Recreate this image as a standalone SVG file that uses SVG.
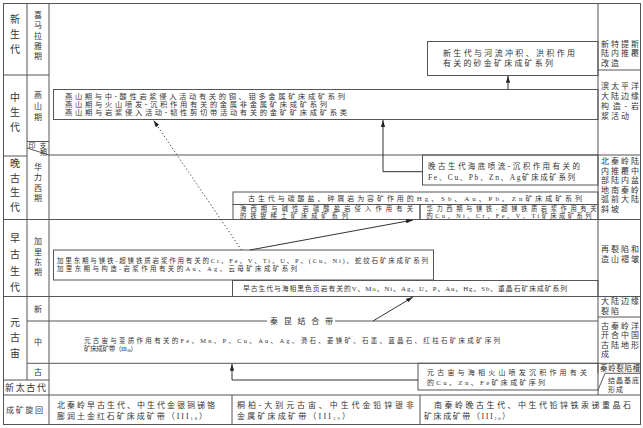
<svg xmlns="http://www.w3.org/2000/svg" width="643" height="428" viewBox="0 0 643 428">
<defs>
<marker id="ah" viewBox="0 0 10 6" refX="10" refY="3" markerWidth="7" markerHeight="4.5" markerUnits="userSpaceOnUse" orient="auto">
<path d="M0,0L10,3L0,6z" fill="#222"/>
</marker>
<style>
.ln{stroke:#555;stroke-width:1;fill:none}
.bx{stroke:#555;stroke-width:1;fill:none}
.t{font-family:"Liberation Serif","Noto Sans CJK SC",serif;fill:#333}
.era{font-size:10px;text-anchor:middle}
.per{font-size:8px;text-anchor:middle}
.rc{font-size:8px}
.cn{stroke:#333;stroke-width:1;fill:none;marker-end:url(#ah)}
.dt{stroke-dasharray:1.2 2.4}
.sub{font-size:4.5px}
</style>
</defs>
<rect x="0" y="0" width="643" height="428" fill="#fff"/>
<g id="grid" class="ln">
<rect x="3.5" y="3.5" width="637" height="421"/>
<path d="M27 3.5V380M49 3.5V424.5M598 3.5V373.3M598 390V395M3.5 75H49M27 141.5H49M3.5 156H27M27 148L49 155M49 155H640.5M598 70H640.5M3.5 219.5H640.5M3.5 296.5H640.5M27 321H49M49 321H267M335 321H598M598 317H640.5M27 363.3H640.5M605 373.3H640.5M605 373.3L598 390M3.5 380H49M3.5 395H640.5M232 395V424.5M420 395V424.5"/>
</g>

<g id="era-labels" class="t era">
<text x="15" y="22.6">新</text><text x="15" y="37.6">生</text><text x="15" y="52.6">代</text>
<text x="15" y="100.6">中</text><text x="15" y="115.6">生</text><text x="15" y="130.6">代</text>
<text x="15" y="166.6">晚</text><text x="15" y="181.6">古</text><text x="15" y="196.1">生</text><text x="15" y="210.6">代</text>
<text x="15" y="241.6">早</text><text x="15" y="258.1">古</text><text x="15" y="274.6">生</text><text x="15" y="291.1">代</text>
<text x="15" y="325.6">元</text><text x="15" y="341.1">古</text><text x="15" y="356.6">宙</text>
</g>
<g id="era-neoarchean"><text class="t" x="5" y="390.8" font-size="9" textLength="41" lengthAdjust="spacing">新太古代</text></g>
<g id="cycle-label"><text class="t" x="6" y="412.9" font-size="8" textLength="37" lengthAdjust="spacing">成矿旋回</text></g>

<g id="period-labels" class="t per">
<text x="38" y="17.9">喜</text><text x="38" y="28.2">马</text><text x="38" y="38.5">拉</text><text x="38" y="48.8">雅</text><text x="38" y="59.1">期</text>
<text x="38" y="97.9">燕</text><text x="38" y="108.9">山</text><text x="38" y="119.9">期</text>
<text x="38" y="169.9">华</text><text x="38" y="180.4">力</text><text x="38" y="190.9">西</text><text x="38" y="201.4">期</text>
<text x="38" y="244.4">加</text><text x="38" y="254.7">里</text><text x="38" y="264.9">东</text><text x="38" y="275.2">期</text>
<text x="38" y="311.9">新</text><text x="38" y="344.9">中</text><text x="38" y="374.9">古</text>
</g>
<g id="period-indosinian" class="t" font-size="7">
<text x="28.5" y="148" textLength="18" lengthAdjust="spacing">印支</text>
<text x="40" y="154.5">期</text>
</g>

<g id="box-cenozoic">
<rect class="bx" x="427.5" y="41.5" width="170.5" height="34"/>
<text class="t" x="443" y="56" font-size="8" textLength="132" lengthAdjust="spacing">新生代与河流冲积、洪积作用</text>
<text class="t" x="443" y="65.5" font-size="8" textLength="110" lengthAdjust="spacing">有关的砂金矿床成矿系列</text>
</g>

<g id="box-yanshan">
<rect class="bx" x="53.5" y="89.5" width="544.5" height="30"/>
<text class="t" x="65" y="98.6" font-size="7.3" textLength="280" lengthAdjust="spacing">燕山期与中-酸性岩浆侵入活动有关的铜、钼多金属矿床成矿系列</text>
<text class="t" x="65" y="106.6" font-size="7.3" textLength="262" lengthAdjust="spacing">燕山期与火山喷发-沉积作用有关的金属非金属矿床成矿系列</text>
<text class="t" x="65" y="114.6" font-size="7.3" textLength="282" lengthAdjust="spacing">燕山期与岩浆侵入活动-韧性剪切带活动有关的金矿矿床成矿系类</text>
</g>

<g id="box-late-paleozoic-exhalative">
<rect class="bx" x="422.5" y="155" width="175.5" height="30"/>
<text class="t" x="428" y="168.8" font-size="7.5" textLength="152" lengthAdjust="spacing">晚古生代海底喷流-沉积作用有关的</text>
<text class="t" x="428" y="179.8" font-size="7.5" textLength="147" lengthAdjust="spacing">Fe、Cu、Pb、Zn、Ag矿床成矿系列</text>
</g>

<g id="box-paleozoic-carbonate">
<rect class="bx" x="233" y="192" width="365" height="12.5"/>
<text class="t" x="248" y="200.9" font-size="7" textLength="334" lengthAdjust="spacing">古生代与碳酸盐、碎屑岩为容矿作用的Hg、Sb、Au、Pb、Zn矿床成矿系列</text>
</g>

<g id="box-hercynian-alkaline">
<rect class="bx" x="233" y="204.5" width="187" height="15"/>
<text class="t" x="240" y="211.4" font-size="6.3" textLength="173" lengthAdjust="spacing">海西期与碱性岩碳酸盐岩侵入作用有关</text>
<text class="t" x="240" y="218.4" font-size="6.3" textLength="108" lengthAdjust="spacing">的铁铌稀土矿床成矿系列</text>
</g>

<g id="box-variscan-mafic">
<rect class="bx" x="420" y="204.5" width="178" height="15"/>
<text class="t" x="426.5" y="211.4" font-size="6.3" textLength="170" lengthAdjust="spacing">华力西期与镁铁-超镁铁质岩浆作用有关</text>
<text class="t" x="426.5" y="218.4" font-size="6.3" textLength="165" lengthAdjust="spacing">的Cu、Ni、Cr、Fe、V、Ti矿床成矿系列</text>
</g>

<g id="box-caledonian">
<rect class="bx" x="53.5" y="250" width="380" height="30"/>
<text class="t" x="57" y="263.3" font-size="6.5" textLength="371" lengthAdjust="spacing">加里东期与镁铁-超镁铁质岩浆作用有关的Cr、Fe、V、Ti、U、P、(Cu、Ni)、蛇纹石矿床成矿系列</text>
<text class="t" x="57" y="270.8" font-size="6.5" textLength="240" lengthAdjust="spacing">加里东期与构造-岩浆作用有关的Au、Ag、云母矿床成矿系列</text>
</g>

<g id="box-early-paleozoic-shale">
<rect class="bx" x="232.5" y="280.5" width="365.5" height="16"/>
<text class="t" x="243" y="291" font-size="6.8" textLength="324" lengthAdjust="spacing">早古生代与海相黑色页岩有关的V、Mo、Ni、Ag、U、P、Au、Hg、Sb、重晶石矿床成矿系列</text>
</g>

<g id="label-qinkun">
<text class="t" x="270" y="324" font-size="8" textLength="63" lengthAdjust="spacing">秦昆结合带</text>
</g>

<g id="node-proterozoic-metamorphic">
<text class="t" x="84" y="342.8" font-size="6.5" textLength="416" lengthAdjust="spacing">元古宙与变质作用有关的Fe、Mn、P、Cu、Au、Ag、滑石、菱镁矿、石墨、蓝晶石、红柱石矿床成矿序列</text>
<text class="t" x="84" y="350.8" font-size="6.5" textLength="53" lengthAdjust="spacing">矿床成矿带（III<tspan class="sub" dy="1.2">18</tspan><tspan dy="-1.2">）</tspan></text>
</g>

<g id="box-proterozoic-volcanic">
<rect class="bx" x="418" y="363.3" width="180" height="26.7"/>
<text class="t" x="427" y="375" font-size="7" textLength="160" lengthAdjust="spacing">元古宙与海相火山喷发沉积作用有关</text>
<text class="t" x="427" y="384.5" font-size="7" textLength="118" lengthAdjust="spacing">的Cu、Zn、Fe矿床成矿序列</text>
</g>

<g id="tectonic-neotethys" class="t rc">
<text x="601" y="46.9" textLength="38" lengthAdjust="spacing">新特提斯</text>
<text x="601" y="56.4" textLength="38" lengthAdjust="spacing">陆内推覆</text>
<text x="601" y="65.9" textLength="18" lengthAdjust="spacing">改造</text>
</g>
<g id="tectonic-circumpacific" class="t rc">
<text x="601" y="88.9" textLength="38" lengthAdjust="spacing">滨太平洋</text>
<text x="601" y="98.9" textLength="38" lengthAdjust="spacing">大陆边缘</text>
<text x="601" y="108.9" textLength="38" lengthAdjust="spacing">构造-岩</text>
<text x="601" y="118.9" textLength="28" lengthAdjust="spacing">浆活动</text>
</g>
<g id="tectonic-variscan" class="t rc">
<text x="601" y="164.4" textLength="38" lengthAdjust="spacing">北秦岭陆</text>
<text x="601" y="173.9" textLength="38" lengthAdjust="spacing">内推覆中</text>
<text x="601" y="183.4" textLength="38" lengthAdjust="spacing">部陆内盆</text>
<text x="601" y="192.9" textLength="38" lengthAdjust="spacing">地南秦岭</text>
<text x="601" y="202.4" textLength="38" lengthAdjust="spacing">弧前大陆</text>
<text x="601" y="211.9" textLength="18" lengthAdjust="spacing">斜坡</text>
</g>
<g id="tectonic-caledonian" class="t rc">
<text x="601" y="251.9" textLength="38" lengthAdjust="spacing">再裂陷和</text>
<text x="601" y="261.9" textLength="38" lengthAdjust="spacing">造山褶皱</text>
</g>
<g id="tectonic-neoproterozoic" class="t rc">
<text x="601" y="304.4" textLength="38" lengthAdjust="spacing">大陆边缘</text>
<text x="601" y="313.9" textLength="18" lengthAdjust="spacing">裂陷</text>
</g>
<g id="tectonic-mesoproterozoic" class="t rc">
<text x="601" y="328.9" textLength="38" lengthAdjust="spacing">古秦岭洋</text>
<text x="601" y="338.4" textLength="38" lengthAdjust="spacing">开合中国</text>
<text x="601" y="347.9" textLength="38" lengthAdjust="spacing">古陆地形</text>
<text x="601" y="357.4">成</text>
</g>
<g id="tectonic-paleoproterozoic">
<text class="t" x="600" y="371" font-size="7.5" textLength="40" lengthAdjust="spacing">秦岭裂陷槽</text>
</g>
<g id="tectonic-neoarchean" class="t" font-size="7">
<text x="608" y="383" textLength="31" lengthAdjust="spacing">结晶基底</text>
<text x="608" y="391.5" textLength="15" lengthAdjust="spacing">形成</text>
</g>

<g id="belt-north-qinling" class="t" font-size="8">
<text x="57" y="408" textLength="158" lengthAdjust="spacing">北秦岭早古生代、中生代金银铜锑铬</text>
<text x="57" y="419" textLength="150" lengthAdjust="spacing">膨润土金红石矿床成矿带（III<tspan class="sub" dy="1.3">18</tspan><tspan dy="-1.3">）</tspan></text>
</g>
<g id="belt-tongbai-dabie" class="t" font-size="8">
<text x="237" y="408" textLength="177" lengthAdjust="spacing">桐柏-大别元古宙、中生代金铅锌银非</text>
<text x="237" y="419" textLength="113" lengthAdjust="spacing">金属矿床成矿带（III<tspan class="sub" dy="1.3">19</tspan><tspan dy="-1.3">）</tspan></text>
</g>
<g id="belt-south-qinling" class="t" font-size="8">
<text x="434" y="408" textLength="197" lengthAdjust="spacing">南秦岭晚古生代、中生代铅锌铁汞锑重晶石</text>
<text x="424" y="419" textLength="86" lengthAdjust="spacing">矿床成矿带（III<tspan class="sub" dy="1.3">20</tspan><tspan dy="-1.3">）</tspan></text>
</g>

<g id="connectors">
<path class="cn" d="M508 89.5V75.8"/>
<path class="cn" d="M422.5 171.7H383V120"/>
<path class="cn dt" d="M241.5 250L153.5 120.3"/>
<path class="cn" d="M250 250L413 220"/>
<path class="cn" d="M373 321L413 297"/>
<path class="cn" d="M418 380H232V363.8"/>
</g>
</svg>
